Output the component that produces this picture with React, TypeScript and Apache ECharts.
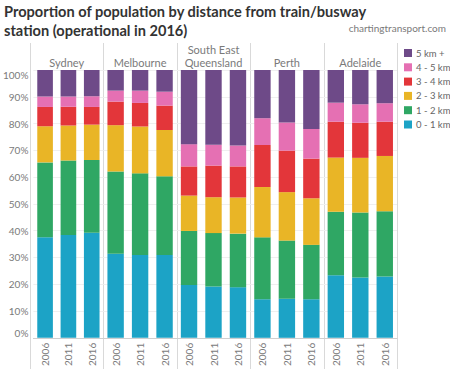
import React, { useEffect, useRef } from "react";
import * as echarts from "echarts";

const years = ["2006", "2011", "2016"];
const cities = ["Sydney", "Melbourne", "South East\nQueensland", "Perth", "Adelaide"];
const bandNames = ["0 - 1 km", "1 - 2 km", "2 - 3 km", "3 - 4 km", "4 - 5 km", "5 km +"];
const bandColors = ["#1ca3c6", "#2fa764", "#e9b526", "#e3363a", "#e570b3", "#6e4a88"];

// share of population (%) — rows: cities, columns: years
const km0to1 = [[37.5, 38.4, 39.2], [31.4, 30.9, 30.9], [19.7, 19.2, 18.9], [14.4, 14.6, 14.4], [23.4, 22.5, 22.9]];
const km1to2 = [[28.0, 27.8, 27.2], [30.7, 30.5, 29.4], [20.2, 19.9, 20.0], [23.1, 21.7, 20.3], [23.7, 24.3, 24.4]];
const km2to3 = [[13.5, 13.1, 13.2], [17.3, 17.5, 17.3], [13.2, 13.4, 13.5], [18.8, 18.1, 17.4], [20.2, 20.4, 20.6]];
const km3to4 = [[7.2, 7.0, 6.6], [8.8, 8.8, 9.1], [10.9, 11.8, 11.6], [15.7, 15.5, 14.8], [13.4, 13.1, 12.8]];
const km4to5 = [[3.9, 3.8, 4.0], [4.1, 4.6, 5.2], [8.3, 7.8, 7.8], [10.0, 10.5, 11.1], [7.1, 6.9, 6.9]];
const km5plus = [[9.9, 9.9, 9.8], [7.7, 7.7, 8.1], [27.7, 27.9, 28.2], [18.0, 19.6, 22.0], [12.2, 12.8, 12.4]];
const bandData = [km0to1, km1to2, km2to3, km3to4, km4to5, km5plus];

const yMin = 0;
const yMax = 100;
const yStep = 10;

const FONT = "Lato, 'Noto Sans', sans-serif";
const PLOT_LEFT = 30;
const PLOT_RIGHT = 397;
const PLOT_TOP = 70;
const PLOT_BOTTOM = 341;
const H = 369;

export default function App() {
  const ref = useRef<HTMLDivElement>(null);
  useEffect(() => {
    if (!ref.current) return;
    const chart = echarts.init(ref.current, undefined, { renderer: "svg" });
    const n = cities.length;
    const panelW = (PLOT_RIGHT - PLOT_LEFT) / n;

    const grids = cities.map((_, i) => ({
      left: PLOT_LEFT + i * panelW,
      width: panelW,
      top: PLOT_TOP,
      bottom: H - PLOT_BOTTOM,
      containLabel: false,
    }));
    const xAxes = cities.map((_, i) => ({
      type: "category",
      gridIndex: i,
      data: years,
      axisLine: { show: true, lineStyle: { color: "#cfcfcf", width: 1 } },
      axisTick: { show: false },
      axisLabel: { rotate: 90, fontSize: 10, color: "#7a7a7a", fontFamily: FONT, margin: 5 },
      splitLine: { show: false },
    }));
    const yAxes = cities.map((_, i) => ({
      type: "value",
      gridIndex: i,
      min: yMin,
      max: yMax,
      interval: yStep,
      axisLine: { show: false },
      axisTick: { show: false },
      axisLabel: {
        show: i === 0,
        formatter: "{value}%",
        fontSize: 10,
        color: "#7a7a7a",
        fontFamily: FONT,
        margin: 5,
        verticalAlignMaxLabel: "top",
        verticalAlignMinLabel: "bottom",
      },
      splitLine: { show: true, lineStyle: { color: "#efefef", width: 1 } },
    }));
    const series: any[] = [];
    cities.forEach((_, ci) => {
      bandNames.forEach((bn, bi) => {
        series.push({
          type: "bar",
          name: bn,
          stack: "city" + ci,
          xAxisIndex: ci,
          yAxisIndex: ci,
          data: bandData[bi][ci],
          barCategoryGap: "33%",
          itemStyle: { color: bandColors[bi] },
          emphasis: { disabled: true },
        });
      });
    });

    const graphics: any[] = [];
    for (let i = 0; i <= n; i++) {
      const x = Math.round(PLOT_LEFT + i * panelW) + 0.5;
      graphics.push({
        type: "line",
        shape: { x1: x, y1: 43, x2: x, y2: H },
        style: { stroke: "#d9d9d9", lineWidth: 1 },
        silent: true,
      });
    }
    cities.forEach((c, i) => {
      graphics.push({
        type: "text",
        x: PLOT_LEFT + (i + 0.5) * panelW,
        y: 69,
        style: {
          text: c,
          fontSize: 11,
          fontFamily: FONT,
          fill: "#7a7a7a",
          align: "center",
          verticalAlign: "bottom",
          lineHeight: 13,
        },
        silent: true,
      });
    });
    graphics.push({
      type: "text",
      right: 4,
      top: 23,
      style: {
        text: "chartingtransport.com",
        fontSize: 10,
        fontFamily: FONT,
        fill: "#7a7a7a",
      },
      silent: true,
    });

    chart.setOption({
      animation: false,
      backgroundColor: "#ffffff",
      title: {
        text: "Proportion of population by distance from train/busway\nstation (operational in 2016)",
        left: 2,
        top: 0,
        padding: [2, 2],
        textStyle: { fontSize: 14.6, fontWeight: "bold", color: "#333333", fontFamily: FONT, lineHeight: 19 },
      },
      legend: {
        orient: "vertical",
        left: 404,
        top: 48,
        itemWidth: 8,
        itemHeight: 8,
        itemGap: 4.3,
        icon: "rect",
        padding: 0,
        data: [...bandNames].reverse(),
        textStyle: { fontSize: 9.5, color: "#666666", fontFamily: FONT, padding: [0, 0, 0, -1] },
        selectedMode: false,
      },
      grid: grids,
      xAxis: xAxes,
      yAxis: yAxes,
      series,
      graphic: graphics,
    });
    return () => chart.dispose();
  }, []);
  return (
    <div
      ref={ref}
      style={{ position: "fixed", left: 0, top: 0, width: 450, height: 369 }}
    />
  );
}
